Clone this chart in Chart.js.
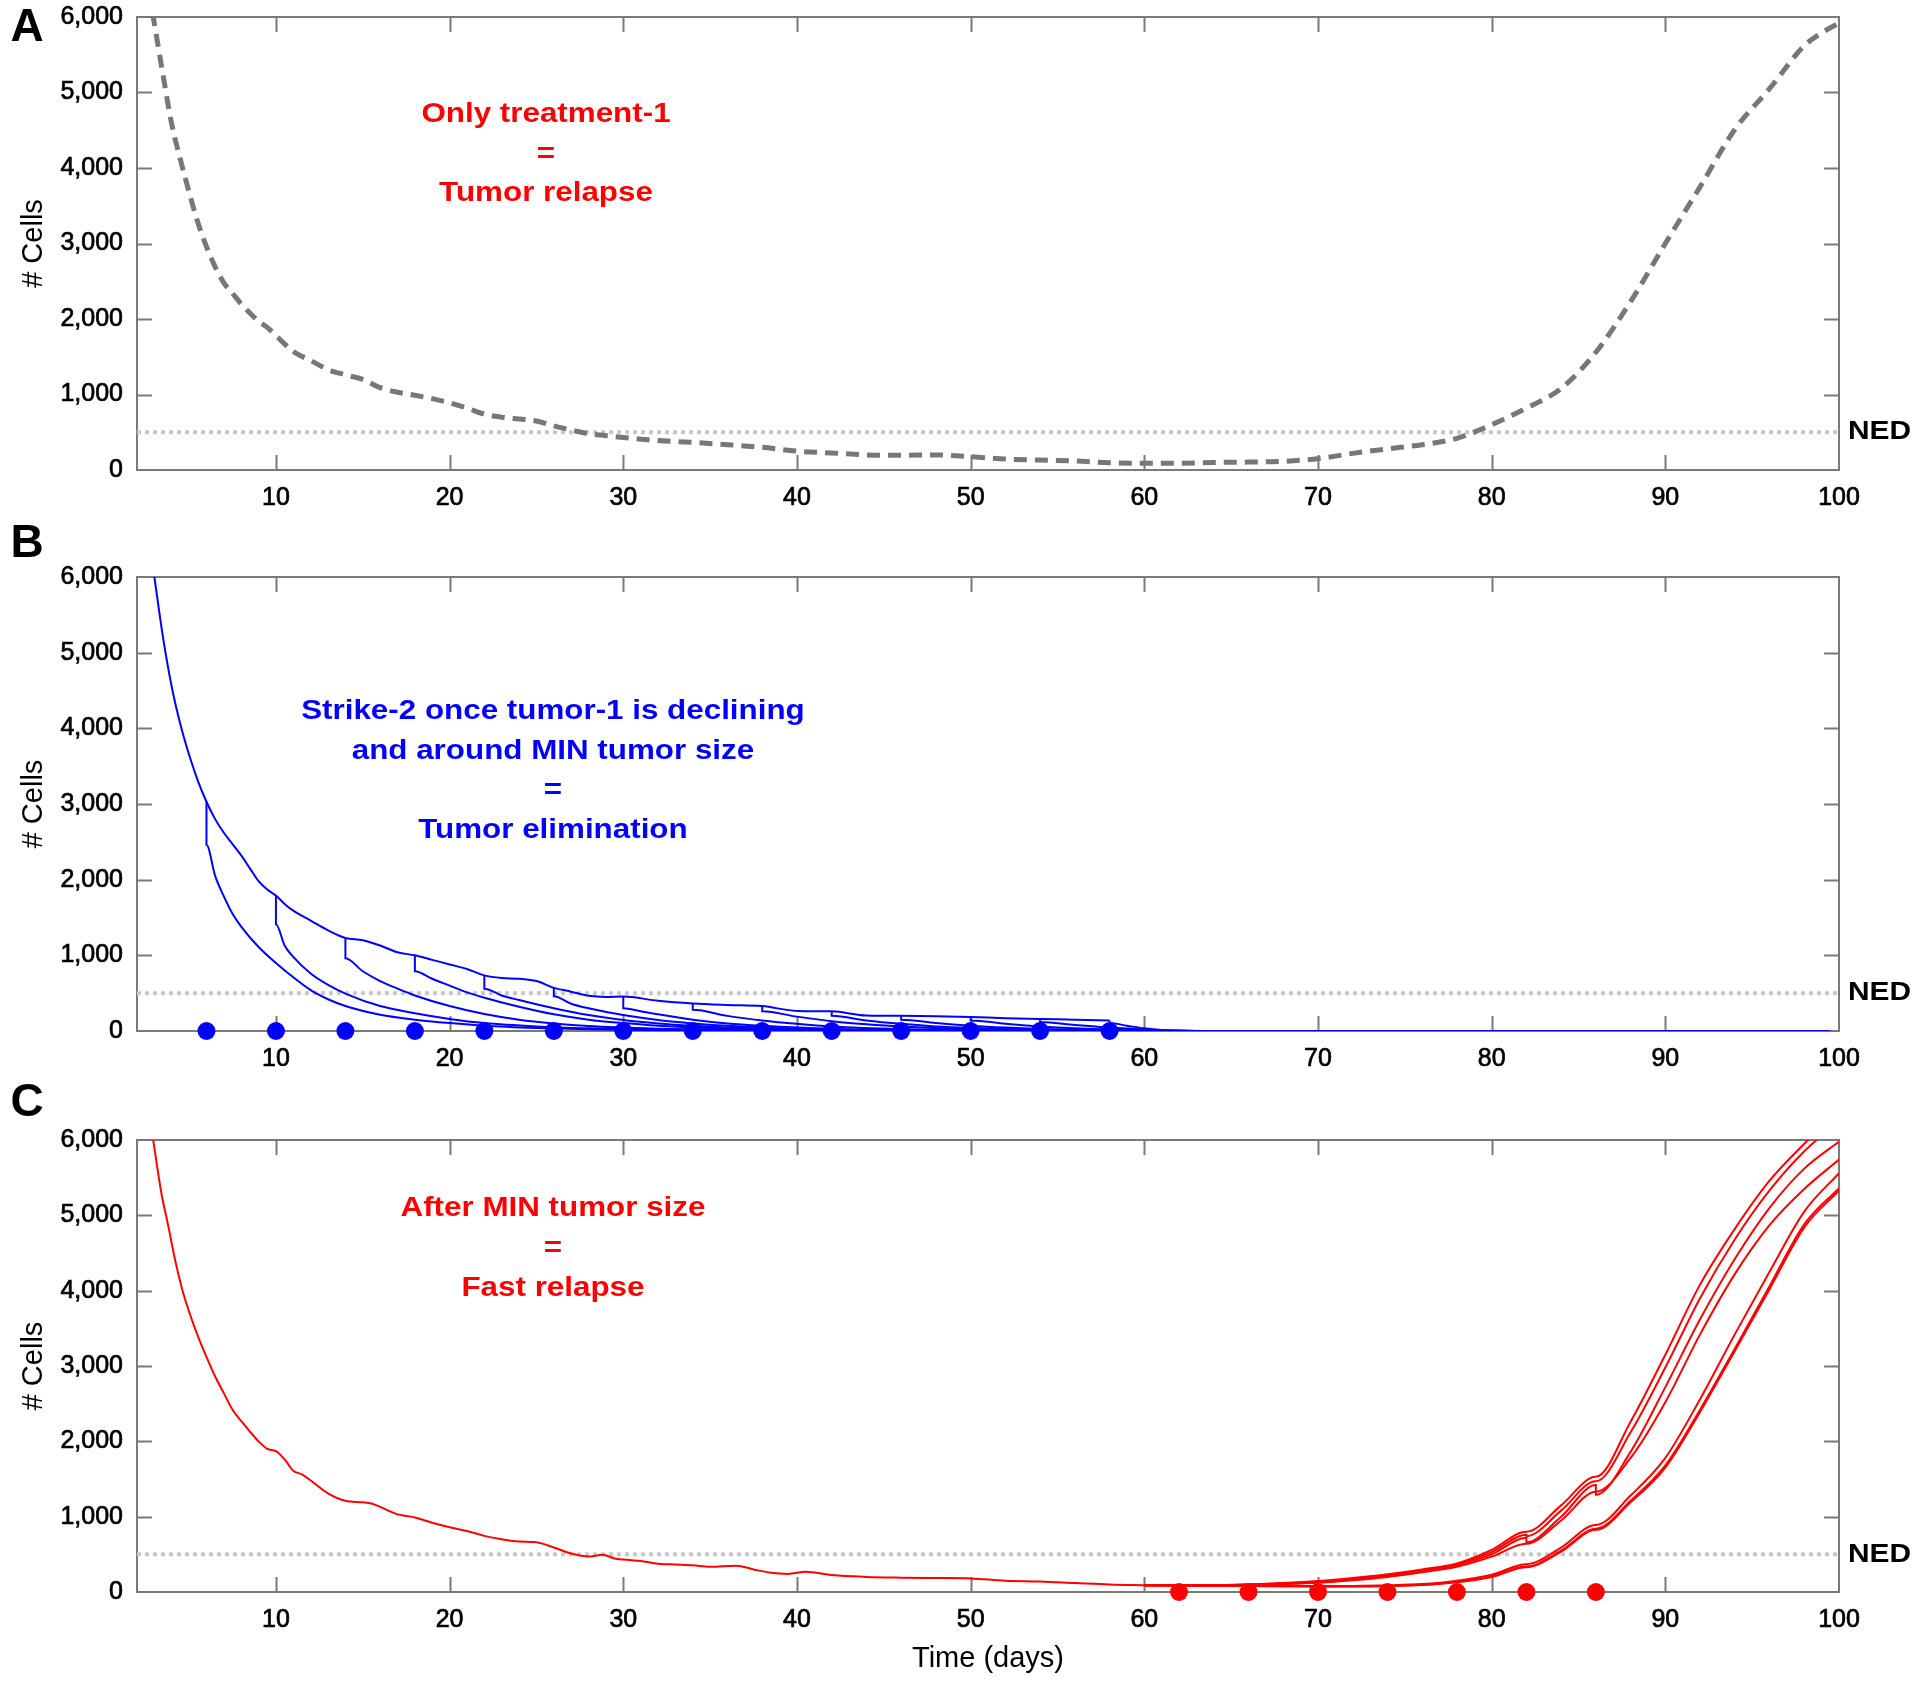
<!DOCTYPE html>
<html>
<head>
<meta charset="utf-8">
<title>Tumor cell counts</title>
<script src="https://cdn.jsdelivr.net/npm/chart.js@4.4.1/dist/chart.umd.min.js"></script>
<style>
  html, body { margin: 0; padding: 0; background: #fff; }
  body { width: 1920px; height: 1682px; position: relative; overflow: hidden; }
  canvas { position: absolute; left: 0; }
</style>
</head>
<body>
<canvas id="chartA" width="1920" height="542" style="top:-12px"></canvas>
<canvas id="chartB" width="1920" height="575" style="top:515px"></canvas>
<canvas id="chartC" width="1920" height="607" style="top:1075px"></canvas>
<script>
// axis ticks
const xTicks = [10, 20, 30, 40, 50, 60, 70, 80, 90, 100];
const yTicks = [0, 1000, 2000, 3000, 4000, 5000, 6000];
const nedLevel = 500;

// panel A : treatment-1 only
const daysA = [2.9, 3.5, 4, 4.5, 5, 5.5, 6, 6.5, 7, 7.5, 8, 8.5, 9, 9.5, 10,
  11, 12, 13, 14, 15, 16, 17, 18, 19, 20, 21, 22, 23, 24, 25, 26, 27, 28, 29, 30,
  32, 34, 36, 38, 40, 42, 44, 46, 48, 50, 52, 54, 56, 58, 60, 62, 64, 66, 68, 70,
  72, 74, 76, 78, 80, 82, 84, 86, 88, 90, 92, 94, 96, 98, 99, 100];
const cellsA = [6050, 5230, 4580, 4110, 3680, 3280, 2960, 2690, 2480, 2340, 2200, 2080, 1970, 1890, 1780,
  1570, 1450, 1330, 1260, 1200, 1090, 1030, 990, 945, 890, 820, 740, 700, 675, 650, 585, 530, 480, 455, 430,
  390, 365, 335, 300, 250, 225, 200, 195, 200, 175, 145, 132, 120, 95, 88, 90, 100, 105, 115, 150,
  220, 280, 335, 420, 600, 820, 1080, 1560, 2230, 3000, 3750, 4510, 5050, 5620, 5790, 5920];

// panel B : strike-2 while declining
const daysMainB = [3, 3.5, 4, 4.5, 5, 5.5, 6, 6.5, 7, 7.5, 8, 8.5, 9, 9.5, 10, 10.5, 11,
  12, 13, 14, 15, 16, 17, 18, 19, 20, 21, 22, 23, 24, 25, 26, 27, 28, 29, 30,
  32, 34, 36, 38, 40, 42, 44, 46, 48, 50, 52, 54, 56, 58];
const cellsMainB = [6000, 5200, 4550, 4050, 3650, 3310, 3030, 2800, 2620, 2470, 2320, 2150, 1980, 1870, 1790, 1680, 1590,
  1460, 1330, 1230, 1200, 1130, 1040, 1000, 940, 880, 820, 735, 700, 690, 660, 570, 520, 465, 450, 455,
  400, 365, 345, 330, 265, 260, 205, 200, 195, 185, 170, 160, 150, 140];
const strikeDaysB = [6, 10, 14, 18, 22, 26, 30, 34, 38, 42, 46, 50, 54, 58];
const branchDaysB = [
  [6, 6, 6.5, 7, 7.5, 8, 9, 10, 11, 12, 13, 14, 16, 18, 20, 22, 25, 28, 32, 40, 50],
  [10, 10, 10.5, 11, 12, 13, 14, 16, 18, 20, 22, 25, 28, 32, 40, 50],
  [14, 14, 15, 16, 17, 18, 20, 22, 24, 26, 28, 32, 36, 44, 52],
  [18, 18, 19, 20, 21, 22, 24, 26, 28, 30, 32, 36, 40, 48, 54],
  [22, 22, 23, 24, 26, 28, 30, 32, 34, 38, 42, 50, 56],
  [26, 26, 27, 28, 30, 32, 34, 36, 40, 44, 52, 58],
  [30, 30, 31, 32, 34, 36, 38, 42, 46, 54, 60],
  [34, 34, 36, 38, 40, 42, 46, 50, 56, 61],
  [38, 38, 40, 42, 44, 46, 50, 54, 58, 62],
  [42, 42, 44, 46, 48, 50, 54, 58, 62],
  [46, 46, 48, 50, 52, 54, 58, 62],
  [50, 50, 52, 54, 56, 58, 60, 63],
  [54, 54, 56, 58, 60, 62, 64],
  [58, 58, 59, 60, 61, 62, 64, 99.5]
];
const branchCellsB = [
  [3030, 2460, 2050, 1780, 1550, 1380, 1110, 900, 710, 540, 420, 330, 215, 150, 105, 70, 40, 22, 10, 2, 0],
  [1790, 1410, 1130, 980, 760, 610, 495, 330, 235, 160, 105, 60, 35, 15, 3, 0],
  [1230, 960, 790, 660, 560, 470, 330, 225, 150, 100, 65, 30, 12, 2, 0],
  [1000, 790, 690, 600, 510, 440, 320, 220, 150, 105, 70, 30, 12, 2, 0],
  [735, 560, 470, 410, 300, 210, 145, 100, 70, 30, 12, 2, 0],
  [570, 460, 360, 300, 210, 145, 100, 70, 30, 12, 2, 0],
  [455, 300, 260, 220, 150, 100, 70, 30, 12, 2, 0],
  [365, 280, 200, 140, 95, 60, 25, 10, 2, 0],
  [330, 260, 190, 130, 90, 60, 25, 10, 2, 0],
  [260, 200, 140, 95, 60, 40, 15, 4, 0],
  [200, 150, 105, 70, 45, 28, 10, 0],
  [185, 140, 95, 60, 35, 20, 8, 0],
  [160, 120, 80, 45, 20, 5, 0],
  [140, 105, 70, 35, 12, 3, 0, 0]
];

// panel C : strike-2 after the minimum
const daysMainC = [2.9, 3.4, 3.8, 4.2, 4.6, 5, 5.5, 6, 6.5, 7, 7.5, 8, 8.5, 9, 9.5, 10, 10.5, 11, 11.5, 12,
  13, 14, 15, 15.5, 16, 17, 17.5, 18, 19, 20, 21, 22, 23, 24, 25, 26, 27, 28, 28.8, 29.5, 30,
  31, 32, 33, 34, 35, 36.5, 37.5, 38.5, 39.5, 40.5, 42, 44, 46, 48, 50, 52, 54, 56, 58, 60];
const cellsMainC = [6050, 5300, 4860, 4400, 4020, 3720, 3400, 3120, 2860, 2640, 2420, 2270, 2130, 2000, 1900, 1870, 1760, 1610, 1560, 1480,
  1310, 1210, 1190, 1175, 1130, 1030, 1010, 990, 920, 860, 810, 745, 700, 670, 660, 590, 510, 470, 495, 445, 430,
  410, 375, 365, 355, 335, 350, 300, 255, 240, 270, 225, 200, 190, 185, 180, 150, 140, 120, 100, 90];
const strikeDaysC = [62, 66, 70, 74, 78, 82, 86];
const branchDaysC = [60, 62, 64, 66, 68, 70, 72, 74, 76, 78, 80, 82, 82, 84, 86, 86, 88, 90, 92, 94, 96, 98, 100];
const branchCellsC = [
  [90, 88, 92, 100, 118, 145, 185, 235, 300, 380, 560, 800, 800, 1150, 1530, 1530, 2260, 3150, 4080, 4820, 5460, 5950, 6400],
  [90, 88, 91, 98, 112, 135, 175, 225, 290, 370, 530, 760, 740, 1080, 1470, 1470, 2120, 2980, 3900, 4680, 5330, 5850, 6250],
  [90, 88, 90, 96, 108, 128, 165, 215, 280, 355, 500, 720, 660, 1000, 1420, 1290, 1860, 2720, 3620, 4420, 5100, 5620, 5980],
  [90, 88, 90, 95, 105, 122, 155, 200, 262, 335, 470, 640, 640, 950, 1330, 1330, 1780, 2520, 3420, 4220, 4870, 5350, 5740],
  [90, 86, 84, 82, 80, 78, 80, 88, 105, 150, 230, 370, 370, 590, 890, 890, 1280, 1780, 2560, 3420, 4250, 5050, 5560],
  [90, 86, 83, 80, 77, 74, 75, 80, 95, 135, 210, 340, 340, 550, 840, 840, 1210, 1680, 2420, 3230, 4060, 4880, 5360],
  [90, 86, 83, 80, 77, 73, 74, 78, 92, 130, 200, 330, 330, 535, 825, 825, 1190, 1650, 2390, 3200, 4020, 4840, 5330]
];

const notesA = ['Only treatment-1', '=', 'Tumor relapse'];
const notesB = ['Strike-2 once tumor-1 is declining', 'and around MIN tumor size', '=', 'Tumor elimination'];
const notesC = ['After MIN tumor size', '=', 'Fast relapse'];

const RED = '#ff0000', BLUE = '#0000ff', FONT = "'Liberation Sans', Arial, Helvetica, sans-serif";
Chart.defaults.font.family = FONT;

function toPoints(xs, ys) {
  return xs.map((x, i) => ({ x: x, y: ys[i] }));
}

function nedSet() {
  return {
    data: [{ x: 2, y: nedLevel }, { x: 100, y: nedLevel }],
    borderColor: '#c8c8c8', borderWidth: 4, borderDash: [4, 4],
    cubicInterpolationMode: 'default', tension: 0, order: 50
  };
}

function dotSet(days, color) {
  return {
    data: days.map(d => ({ x: d, y: 0 })),
    showLine: false, pointRadius: 9, pointHoverRadius: 9,
    pointBackgroundColor: color, pointBorderWidth: 0, clip: false, order: -1
  };
}

// frame with inner ticks, panel letter, notes and NED label
const panelDecor = {
  id: 'panelDecor',
  beforeDatasetsDraw(chart) {
    const { ctx, chartArea: a, scales: { x, y } } = chart;
    ctx.save();
    ctx.strokeStyle = '#7a7a7a';
    ctx.lineWidth = 2;
    ctx.strokeRect(a.left, a.top, a.right - a.left, a.bottom - a.top);
    ctx.beginPath();
    xTicks.forEach(v => {
      if (v >= 100) return;
      const px = Math.round(x.getPixelForValue(v)) + 0.5;
      ctx.moveTo(px, a.bottom); ctx.lineTo(px, a.bottom - 15);
      ctx.moveTo(px, a.top); ctx.lineTo(px, a.top + 15);
    });
    yTicks.forEach(v => {
      if (v <= 0 || v >= 6000) return;
      const py = Math.round(y.getPixelForValue(v)) + 0.5;
      ctx.moveTo(a.left, py); ctx.lineTo(a.left + 15, py);
      ctx.moveTo(a.right, py); ctx.lineTo(a.right - 15, py);
    });
    ctx.stroke();
    ctx.restore();
  },
  afterDraw(chart, args, opts) {
    const { ctx, chartArea: a, scales: { x, y } } = chart;
    ctx.save();
    ctx.textBaseline = 'middle';
    // panel letter
    ctx.fillStyle = '#000';
    ctx.textAlign = 'center';
    ctx.font = 'bold 46px ' + FONT;
    ctx.fillText(opts.letter, 27, opts.letterY);
    // NED label
    ctx.textAlign = 'left';
    ctx.font = 'bold 26px ' + FONT;
    ctx.save();
    ctx.translate(a.right + 9, y.getPixelForValue(nedLevel));
    ctx.scale(1.15, 1);
    ctx.fillText('NED', 0, 0);
    ctx.restore();
    // notes
    ctx.textAlign = 'center';
    ctx.fillStyle = opts.color;
    ctx.font = 'bold 28px ' + FONT;
    const cx = x.getPixelForValue(opts.noteX);
    const cy = y.getPixelForValue(opts.noteY);
    opts.notes.forEach((t, i) => {
      ctx.save();
      ctx.translate(cx, cy + i * opts.gap);
      ctx.scale(1.12, 1);
      ctx.fillText(t, 0, 0);
      ctx.restore();
    });
    ctx.restore();
  }
};

function panelChart(id, datasets, cfg) {
  const tickStyle = { color: '#000', font: { size: 25 }, textStrokeColor: '#000', textStrokeWidth: 0.7 };
  return new Chart(document.getElementById(id), {
    type: 'line',
    data: { datasets: datasets },
    options: {
      responsive: false,
      animation: false,
      devicePixelRatio: 1,
      layout: { padding: { top: cfg.padTop, right: 81, left: 0, bottom: 0 } },
      elements: { point: { radius: 0 }, line: { cubicInterpolationMode: 'monotone' } },
      plugins: { legend: { display: false }, tooltip: { enabled: false }, panelDecor: cfg.decor },
      scales: {
        x: {
          type: 'linear', min: 2, max: 100,
          afterBuildTicks: s => { s.ticks = xTicks.map(v => ({ value: v })); },
          afterFit: s => { s.height = cfg.xAxisHeight; },
          grid: { display: false, drawTicks: false },
          border: { display: false },
          ticks: Object.assign({ padding: 13, maxRotation: 0, autoSkip: false }, tickStyle),
          title: cfg.xTitle
            ? { display: true, text: cfg.xTitle, color: '#000', font: { size: 29 }, padding: { top: 0, bottom: 6 } }
            : { display: false }
        },
        y: {
          min: 0, max: 6000,
          afterBuildTicks: s => { s.ticks = yTicks.map(v => ({ value: v })); },
          afterFit: s => { s.width = 137; },
          grid: { display: false, drawTicks: false },
          border: { display: false },
          ticks: Object.assign({ padding: 14, callback: v => v.toLocaleString('en-US') }, tickStyle),
          title: { display: true, text: '# Cells', color: '#000', font: { size: 29 }, padding: { top: 17, bottom: 0 } }
        }
      }
    },
    plugins: [panelDecor]
  });
}

// A (canvas starts 12px above the page so the plot top lands at y=17)
panelChart('chartA', [
  nedSet(),
  { data: toPoints(daysA, cellsA), borderColor: '#777777', borderWidth: 5, borderDash: [13, 8] }
], {
  padTop: 29, xAxisHeight: 60,
  decor: { letter: 'A', letterY: 40, notes: notesA, color: RED, noteX: 25.55, noteY: 4712, gap: 39.6 }
});

// B
const setsB = [nedSet(), dotSet(strikeDaysB, BLUE),
  { data: toPoints(daysMainB, cellsMainB), borderColor: BLUE, borderWidth: 2 }];
branchDaysB.forEach((days, i) => {
  setsB.push({ data: toPoints(days, branchCellsB[i]), borderColor: BLUE, borderWidth: 2 });
});
panelChart('chartB', setsB, {
  padTop: 62, xAxisHeight: 59,
  decor: { letter: 'B', letterY: 29, notes: notesB, color: BLUE, noteX: 25.95, noteY: 4224, gap: 39.6 }
});

// C
const setsC = [nedSet(), dotSet(strikeDaysC, RED),
  { data: toPoints(daysMainC, cellsMainC), borderColor: RED, borderWidth: 2 }];
branchCellsC.forEach(cells => {
  setsC.push({ data: toPoints(branchDaysC, cells), borderColor: RED, borderWidth: 2 });
});
panelChart('chartC', setsC, {
  padTop: 65, xAxisHeight: 90, xTitle: 'Time (days)',
  decor: { letter: 'C', letterY: 28, notes: notesC, color: RED, noteX: 25.95, noteY: 5089, gap: 39.8 }
});
</script>
</body>
</html>
